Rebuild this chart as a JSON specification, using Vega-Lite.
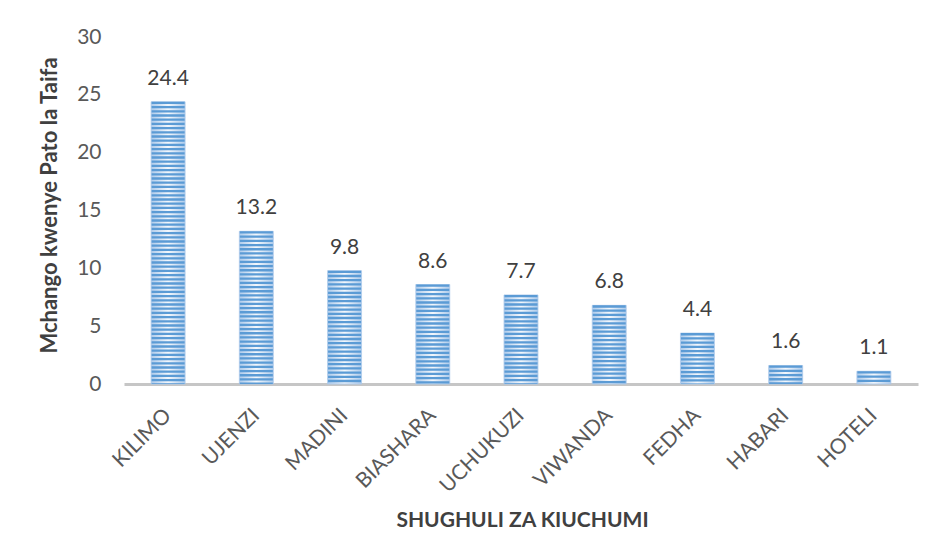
{
  "$schema": "https://vega.github.io/schema/vega-lite/v6.json",
  "width": 794,
  "height": 347,
  "autosize": "none",
  "padding": {"left": 124, "top": 37, "right": 17, "bottom": 176},
  "background": "white",
  "data": {
    "values": [
      {"shughuli": "KILIMO", "mchango": 24.4},
      {"shughuli": "UJENZI", "mchango": 13.2},
      {"shughuli": "MADINI", "mchango": 9.8},
      {"shughuli": "BIASHARA", "mchango": 8.6},
      {"shughuli": "UCHUKUZI", "mchango": 7.7},
      {"shughuli": "VIWANDA", "mchango": 6.8},
      {"shughuli": "FEDHA", "mchango": 4.4},
      {"shughuli": "HABARI", "mchango": 1.6},
      {"shughuli": "HOTELI", "mchango": 1.1}
    ]
  },
  "encoding": {
    "x": {
      "field": "shughuli",
      "type": "nominal",
      "sort": null,
      "scale": {"paddingInner": 0, "paddingOuter": 0},
      "axis": {
        "title": "SHUGHULI ZA KIUCHUMI",
        "titleFont": "Lato",
        "titleFontSize": 21,
        "titleFontWeight": "bold",
        "titleColor": "#404040",
        "titleX": 398,
        "titleY": 142,
        "titleAlign": "center",
        "titleBaseline": "alphabetic",
        "labelAngle": -45,
        "labelAlign": "right",
        "labelBaseline": "middle",
        "labelPadding": 28,
        "labelFont": "Lato",
        "labelFontSize": 21,
        "labelColor": "#595959",
        "ticks": false,
        "tickSize": 0,
        "domainColor": "#c6c6c6",
        "domainWidth": 3,
        "grid": false
      }
    },
    "y": {
      "field": "mchango",
      "type": "quantitative",
      "scale": {"domain": [0, 30]},
      "axis": {
        "title": "Mchango kwenye Pato la Taifa",
        "titleFont": "Lato",
        "titleFontSize": 22,
        "titleFontWeight": "bold",
        "titleColor": "#404040",
        "titleX": -68,
        "titleY": 168,
        "titleAlign": "center",
        "titleBaseline": "alphabetic",
        "values": [0, 5, 10, 15, 20, 25, 30],
        "labelFont": "Lato",
        "labelFontSize": 21,
        "labelColor": "#595959",
        "labelPadding": 23,
        "domain": false,
        "ticks": false,
        "tickSize": 0,
        "grid": false
      }
    }
  },
  "layer": [
    {
      "mark": {
        "type": "bar",
        "width": {"band": 0.385},
        "fill": {
          "gradient": "linear",
          "x1": 0, "y1": 0, "x2": 1, "y2": 0,
          "stops": [
            {"offset": 0, "color": "#aecbeb"},
            {"offset": 0.5, "color": "#f3f7fc"},
            {"offset": 1, "color": "#aecbeb"}
          ]
        },
        "stroke": "#a9c8ea",
        "strokeWidth": 0.8
      }
    },
    {
      "mark": {
        "type": "rule",
        "strokeWidth": 33,
        "strokeDash": [2.3, 1.9],
        "strokeCap": "butt",
        "color": "#5b9bd5"
      },
      "encoding": {"y2": {"datum": 0}}
    },
    {
      "mark": {
        "type": "text",
        "dy": -17,
        "baseline": "alphabetic",
        "font": "Lato",
        "fontSize": 21,
        "color": "#404040"
      },
      "encoding": {
        "text": {"field": "mchango", "type": "quantitative", "format": ".1f"}
      }
    }
  ],
  "config": {"view": {"stroke": null}, "font": "Lato"}
}
